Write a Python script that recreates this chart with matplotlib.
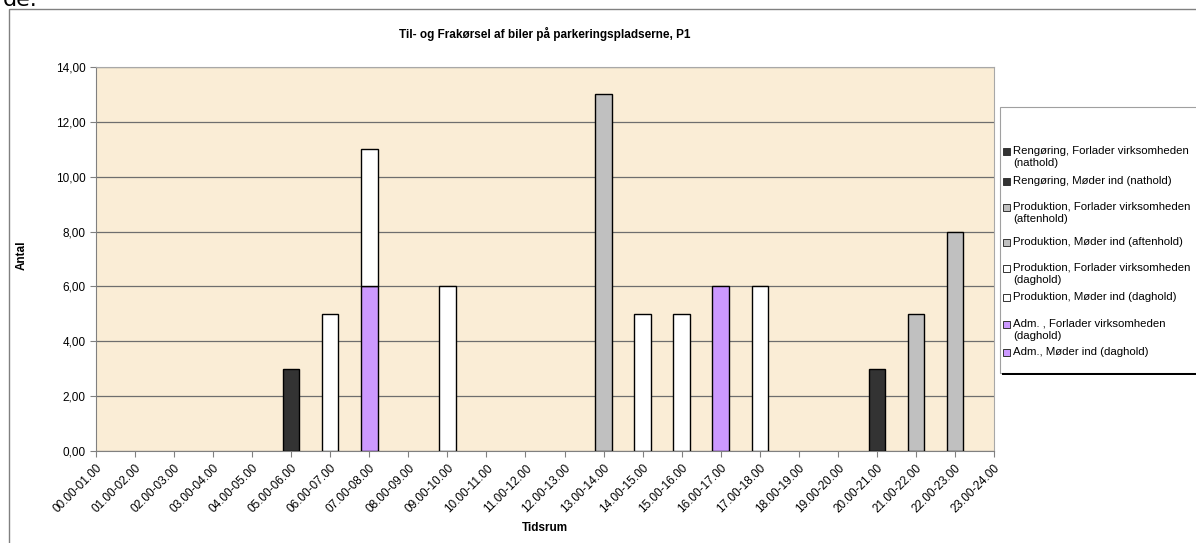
import numpy as np
import matplotlib
matplotlib.use("Agg")
import matplotlib.pyplot as plt
from matplotlib.patches import Rectangle

plt.rcParams['font.family'] = ['Liberation Sans', 'DejaVu Sans']

# time slots
tidsrum = ['00.00-01.00', '01.00-02.00', '02.00-03.00', '03.00-04.00', '04.00-05.00',
           '05.00-06.00', '06.00-07.00', '07.00-08.00', '08.00-09.00', '09.00-10.00',
           '10.00-11.00', '11.00-12.00', '12.00-13.00', '13.00-14.00', '14.00-15.00',
           '15.00-16.00', '16.00-17.00', '17.00-18.00', '18.00-19.00', '19.00-20.00',
           '20.00-21.00', '21.00-22.00', '22.00-23.00', '23.00-24.00']

# series (bottom of stack first)
adm_moder = [0, 0, 0, 0, 0, 0, 0, 6, 0, 0, 0, 0, 0, 0, 0, 0, 0, 0, 0, 0, 0, 0, 0, 0]
adm_forlader = [0, 0, 0, 0, 0, 0, 0, 0, 0, 0, 0, 0, 0, 0, 0, 0, 6, 0, 0, 0, 0, 0, 0, 0]
prod_dag_moder = [0, 0, 0, 0, 0, 0, 5, 5, 0, 6, 0, 0, 0, 0, 0, 0, 0, 0, 0, 0, 0, 0, 0, 0]
prod_dag_forlader = [0, 0, 0, 0, 0, 0, 0, 0, 0, 0, 0, 0, 0, 0, 5, 5, 0, 6, 0, 0, 0, 0, 0, 0]
prod_aften_moder = [0, 0, 0, 0, 0, 0, 0, 0, 0, 0, 0, 0, 0, 13, 0, 0, 0, 0, 0, 0, 0, 0, 0, 0]
prod_aften_forlader = [0, 0, 0, 0, 0, 0, 0, 0, 0, 0, 0, 0, 0, 0, 0, 0, 0, 0, 0, 0, 0, 5, 8, 0]
reng_moder = [0, 0, 0, 0, 0, 0, 0, 0, 0, 0, 0, 0, 0, 0, 0, 0, 0, 0, 0, 0, 3, 0, 0, 0]
reng_forlader = [0, 0, 0, 0, 0, 3, 0, 0, 0, 0, 0, 0, 0, 0, 0, 0, 0, 0, 0, 0, 0, 0, 0, 0]

series = [
    (adm_moder, '#CC99FF', 'Adm., Møder ind (daghold)'),
    (adm_forlader, '#CC99FF', 'Adm. , Forlader virksomheden\n(daghold)'),
    (prod_dag_moder, '#FFFFFF', 'Produktion, Møder ind (daghold)'),
    (prod_dag_forlader, '#FFFFFF', 'Produktion, Forlader virksomheden\n(daghold)'),
    (prod_aften_moder, '#C0C0C0', 'Produktion, Møder ind (aftenhold)'),
    (prod_aften_forlader, '#C0C0C0', 'Produktion, Forlader virksomheden\n(aftenhold)'),
    (reng_moder, '#333333', 'Rengøring, Møder ind (nathold)'),
    (reng_forlader, '#333333', 'Rengøring, Forlader virksomheden\n(nathold)'),
]

fig = plt.figure(figsize=(11.96, 5.43), dpi=100)
fig.patch.set_facecolor('white')
W, H = 1196, 543
fs = 8.5

# outer chart frame
fig.patches.append(Rectangle((9 / W, -0.1), 1.2, 1 - 9 / H + 0.1, transform=fig.transFigure,
                             facecolor='none', edgecolor='#808080', lw=1.0))
# fragment of surrounding document text, cut by the top edge
fig.text(3 / W, 1 - 6 / H, 'de.', fontsize=16, family='DejaVu Sans', va='baseline', ha='left')

ax = fig.add_axes([96 / W, 1 - 451 / H, (994 - 96) / W, (451 - 67) / H])
ax.set_facecolor('#FAEDD6')

x = np.arange(len(tidsrum))
bottom = np.zeros(len(tidsrum))
for vals, col, lab in series:
    v = np.array(vals, dtype=float)
    nz = v > 0
    ax.bar(x[nz], v[nz], width=0.42, bottom=bottom[nz], color=col,
           edgecolor='black', linewidth=1.0, zorder=3)
    bottom += v

ax.set_xlim(0, 23)
ax.set_ylim(0, 14)
ax.set_yticks(np.arange(0, 15, 2))
ax.set_yticklabels([f'{v:.2f}'.replace('.', ',') for v in np.arange(0, 15, 2)], fontsize=fs)
ax.set_xticks(x)
ax.set_xticklabels(tidsrum, rotation=45, ha='right', rotation_mode='anchor', fontsize=fs)
ax.grid(axis='y', color='#6E6E6E', lw=0.9, zorder=1)
ax.tick_params(axis='both', color='#808080', length=4, width=0.8, direction='out')
ax.tick_params(axis='x', pad=4)
for s in ['left', 'bottom']:
    ax.spines[s].set_color('#808080')
for s in ['top', 'right']:
    ax.spines[s].set_color('#A8A8A8')

fig.text(545 / W, 1 - 34 / H, 'Til- og Frakørsel af biler på parkeringspladserne, P1',
         fontsize=fs, fontweight='bold', ha='center', va='center')
fig.text(22 / W, 1 - 255 / H, 'Antal', rotation=90, fontsize=fs, fontweight='bold',
         ha='center', va='center')
fig.text(545 / W, 1 - 528 / H, 'Tidsrum', fontsize=fs, fontweight='bold',
         ha='center', va='center')

# legend box (Excel style, with shadow)
fig.patches.append(Rectangle((1000 / W, 1 - 373 / H), 0.3, (373 - 107) / H,
                             transform=fig.transFigure, facecolor='white',
                             edgecolor='#A0A0A0', lw=0.8))
fig.patches.append(Rectangle((1002 / W, 1 - 375 / H), 0.3, 2 / H,
                             transform=fig.transFigure, facecolor='black', lw=0))
leg_y = [152, 182, 208, 243, 269, 298, 325, 353]
for (vals, col, lab), yy in zip(series[::-1], leg_y):
    fig.patches.append(Rectangle((1003 / W, 1 - (yy + 3) / H), 7 / W, 7 / H,
                                 transform=fig.transFigure, facecolor=col,
                                 edgecolor='#333333', lw=0.7))
    fig.text(1013 / W, 1 - (yy - 6) / H, lab, fontsize=8.2, ha='left', va='top',
             linespacing=1.25)

fig.savefig('out.png', dpi=100)
